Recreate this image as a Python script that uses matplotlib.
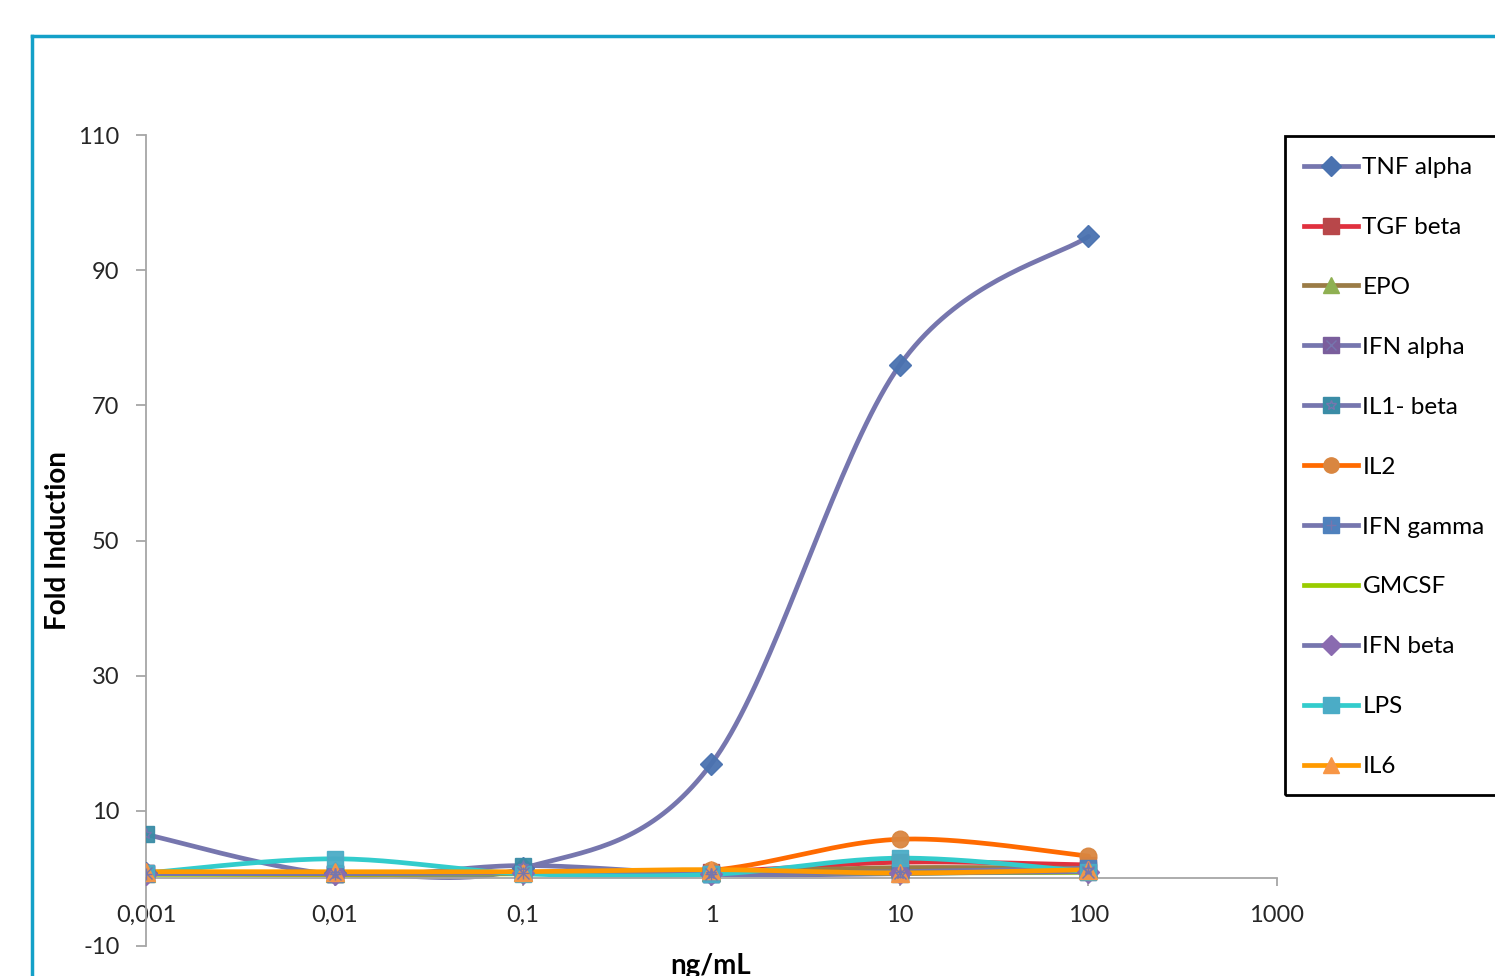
import numpy as np
import matplotlib
matplotlib.use("Agg")
import matplotlib.pyplot as plt
from matplotlib.lines import Line2D
from matplotlib.patches import Rectangle
from matplotlib.legend_handler import HandlerTuple

plt.rcParams["font.family"] = ["Lato", "DejaVu Sans"]
plt.rcParams["axes.unicode_minus"] = False

# ── data ─────────────────────────────────────────────────────────────
conc = [0.001, 0.01, 0.1, 1, 10, 100]
xtick_vals = [0.001, 0.01, 0.1, 1, 10, 100, 1000]
xtick_labels = ["0,001", "0,01", "0,1", "1", "10", "100", "1000"]
ytick_vals = [-10, 10, 30, 50, 70, 90, 110]

tnf_alpha = [0.8, 0.8, 1.5, 17, 76, 95]
tgf_beta = [0.8, 0.8, 0.8, 1.0, 2.4, 2.0]
epo = [0.8, 0.8, 0.9, 1.0, 1.6, 1.5]
ifn_alpha = [0.8, 0.6, 0.8, 0.7, 0.8, 1.0]
il1_beta = [6.5, 0.6, 1.9, 0.6, 0.7, 1.2]
il2 = [0.7, 0.6, 0.8, 1.2, 5.8, 3.3]
ifn_gamma = [0.7, 0.7, 0.8, 0.7, 1.0, 1.5]
gmcsf = [0.6, 0.6, 0.7, 0.7, 0.8, 0.9]
ifn_beta = [0.7, 0.7, 0.8, 0.7, 0.8, 1.0]
lps = [0.8, 2.9, 0.7, 0.6, 3.0, 1.0]
il6 = [1.0, 1.0, 1.0, 1.3, 0.8, 1.3]

SLATE = "#7676AE"
# name, values, line colour, marker, marker colour, overlay symbol
series = [
    ("TNF alpha", tnf_alpha, SLATE, "D", "#4A72B0", None),
    ("TGF beta", tgf_beta, "#E0303E", "s", "#B8474A", None),
    ("EPO", epo, "#9A7B45", "^", "#8FB052", None),
    ("IFN alpha", ifn_alpha, SLATE, "s", "#7A5E9C", "x"),
    ("IL1- beta", il1_beta, SLATE, "s", "#3A8CA6", "*"),
    ("IL2", il2, "#FF6A00", "o", "#D98640", None),
    ("IFN gamma", ifn_gamma, SLATE, "s", "#4F81BD", "+"),
    ("GMCSF", gmcsf, "#99CC00", None, None, None),
    ("IFN beta", ifn_beta, SLATE, "D", "#8A6BB0", None),
    ("LPS", lps, "#33CCCC", "s", "#4BACC6", None),
    ("IL6", il6, "#FF9A00", "^", "#F79646", None),
]
MS = {"D": 11, "s": 12, "o": 12, "^": 13}


def smooth(xs, ys, n=40):
    # Excel-like smoothed line: Catmull-Rom bezier in (log x, y)
    lx = np.log10(xs)
    ys = np.asarray(ys, float)
    px = np.concatenate([[lx[0]], lx, [lx[-1]]])
    py = np.concatenate([[ys[0]], ys, [ys[-1]]])
    out_x, out_y = [], []
    t = np.linspace(0, 1, n)
    for i in range(1, len(lx)):
        p0 = np.array([px[i], py[i]])
        p3 = np.array([px[i + 1], py[i + 1]])
        c1 = p0 + (p3 - np.array([px[i - 1], py[i - 1]])) / 6
        c2 = p3 - (np.array([px[i + 2], py[i + 2]]) - p0) / 6
        b = ((1 - t) ** 3)[:, None] * p0 + (3 * (1 - t) ** 2 * t)[:, None] * c1 \
            + (3 * (1 - t) * t ** 2)[:, None] * c2 + (t ** 3)[:, None] * p3
        out_x.extend(10 ** b[:, 0])
        out_y.extend(b[:, 1])
    return out_x, out_y


W, H = 1495, 976
fig = plt.figure(figsize=(W / 100, H / 100), dpi=100)
ax = fig.add_axes([146 / W, (H - 946) / H, (1277 - 146) / W, (946 - 135) / H])

handles = []
for name, vals, lc, mk, mc, ov in series:
    sx, sy = smooth(conc, vals)
    ax.plot(sx, sy, color=lc, lw=3.4, solid_capstyle="round", zorder=2)
    parts = [Line2D([], [], color=lc, lw=3.4)]
    if mk is not None:
        ms = MS[mk]
        ax.plot(conc, vals, ls="none", marker=mk, ms=ms, mfc=mc, mec=mc,
                alpha=0.95, zorder=3)
        parts.append(Line2D([], [], ls="none", marker=mk, ms=ms - 1, mfc=mc, mec=mc))
        if ov is not None:
            ax.plot(conc, vals, ls="none", marker=ov, ms=8, mfc="none",
                    mec=SLATE, mew=1.0, zorder=4)
            parts.append(Line2D([], [], ls="none", marker=ov, ms=7, mfc="none",
                                mec=SLATE, mew=1.0))
    handles.append(tuple(parts))

ax.set_xscale("log")
ax.set_xlim(0.001, 1000)
ax.set_ylim(-10, 110)
ax.set_xticks(xtick_vals)
ax.set_xticklabels(xtick_labels)
ax.xaxis.set_minor_locator(matplotlib.ticker.NullLocator())
ax.set_yticks(ytick_vals)
ax.set_yticklabels([str(v) for v in ytick_vals])

for s in ("top", "right"):
    ax.spines[s].set_visible(False)
ax.spines["bottom"].set_position(("data", 0))
for s in ("left", "bottom"):
    ax.spines[s].set_color("#A6A6A6")
    ax.spines[s].set_linewidth(1.3)
ax.tick_params(axis="both", colors="#A6A6A6", labelcolor="#262626",
               labelsize=17, width=1.3, direction="out")
ax.tick_params(axis="y", length=7, pad=12)
ax.tick_params(axis="x", length=6, pad=13)

fig.text(58 / W, 1 - 541 / H, "Fold Induction", rotation=90, fontsize=20,
         fontweight="bold", ha="center", va="center", color="#000000")
fig.text(711 / W, 1 - 953 / H, "ng/mL", fontsize=20, fontweight="bold",
         ha="center", va="top", color="#000000")

# legend (frame drawn separately, it runs off the right edge)
fig.patches.append(Rectangle((1285 / W, 1 - 795 / H), 300 / W, (795 - 136) / H,
                             transform=fig.transFigure, fill=False,
                             edgecolor="#000000", lw=2))
fig.legend(handles, [s[0] for s in series], loc="upper left",
           bbox_to_anchor=(1292 / W, 1 - 145 / H), frameon=False,
           fontsize=17.5, handlelength=2.2, handletextpad=0.2, labelspacing=1.6,
           borderpad=0, handler_map={tuple: HandlerTuple(ndivide=1, pad=0)})

# outer chart-area border (teal)
fig.lines.append(Line2D([32 / W, 32 / W], [0, 1 - 36 / H], transform=fig.transFigure,
                        color="#14A0C8", lw=2.5))
fig.lines.append(Line2D([32 / W, 1.0], [1 - 36 / H, 1 - 36 / H], transform=fig.transFigure,
                        color="#14A0C8", lw=2.5))

fig.savefig("out.png", dpi=100)
